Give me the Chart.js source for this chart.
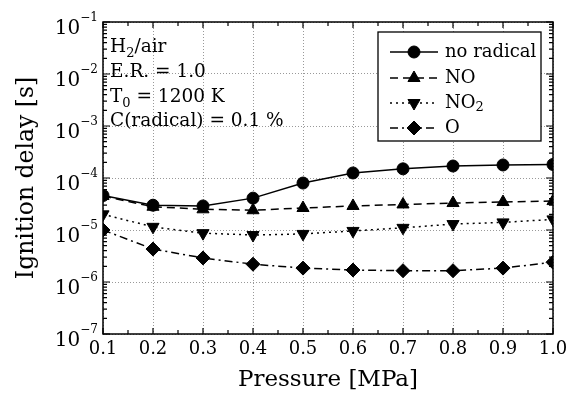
<!DOCTYPE html>
<html><head><meta charset="utf-8">
<script src="https://cdn.jsdelivr.net/npm/chart.js@4"></script>
<style>html,body{margin:0;padding:0;background:#fff}#wrap{width:569px;height:398px}</style>
</head><body><div id="wrap"><canvas id="c" width="569" height="398"></canvas></div>
<script>
const pressure = [0.1, 0.2, 0.3, 0.4, 0.5, 0.6, 0.7, 0.8, 0.9, 1.0];
const noRadical = [4.6e-5, 3.0e-5, 2.9e-5, 4.1e-5, 8.0e-5, 1.25e-4, 1.5e-4, 1.7e-4, 1.78e-4, 1.82e-4];
const noValues = [4.5e-5, 2.8e-5, 2.5e-5, 2.4e-5, 2.65e-5, 2.9e-5, 3.1e-5, 3.3e-5, 3.45e-5, 3.6e-5];
const no2Values = [2.0e-5, 1.15e-5, 8.7e-6, 8.0e-6, 8.4e-6, 9.6e-6, 1.1e-5, 1.3e-5, 1.4e-5, 1.6e-5];
const oValues = [1.0e-5, 4.3e-6, 2.9e-6, 2.2e-6, 1.85e-6, 1.7e-6, 1.65e-6, 1.65e-6, 1.85e-6, 2.4e-6];
const seriesNames = ['no radical', 'NO', 'NO2', 'O'];
const xTickValues = [0.1, 0.2, 0.3, 0.4, 0.5, 0.6, 0.7, 0.8, 0.9, 1.0];
const yExponents = [-7, -6, -5, -4, -3, -2, -1];
const xTitle = 'Pressure [MPa]';
const yTitle = 'Ignition delay [s]';
const noteLines = [['H', '2', '/air'], ['E.R. = 1.0', '', ''], ['T', '0', ' = 1200 K'], ['C(radical) = 0.1 %', '', '']];

const SERIF = '"DejaVu Serif", "Liberation Serif", serif';
const styles = [
  {pointStyle: 'circle', rot: 0, dash: [], r: 6},
  {pointStyle: 'triangle', rot: 0, dash: [8, 5], r: 7},
  {pointStyle: 'triangle', rot: 180, dash: [2, 4], r: 7},
  {pointStyle: 'rectRot', rot: 0, dash: [8, 4, 2, 4], r: 7}
];
const seriesData = [noRadical, noValues, no2Values, oValues];

function drawSubText(ctx, x, y, parts, size) {
  ctx.font = size + 'px ' + SERIF;
  ctx.fillText(parts[0], x, y);
  let w = ctx.measureText(parts[0]).width;
  if (parts[1]) {
    ctx.font = Math.round(size * 0.7) + 'px ' + SERIF;
    ctx.fillText(parts[1], x + w, y + 5);
    w += ctx.measureText(parts[1]).width;
  }
  if (parts[2]) {
    ctx.font = size + 'px ' + SERIF;
    ctx.fillText(parts[2], x + w, y);
  }
}

const framePlugin = {
  id: 'frame',
  afterDraw(chart) {
    const ctx = chart.ctx, a = chart.chartArea;
    const xs = chart.scales.x, ys = chart.scales.y;
    ctx.save();
    ctx.strokeStyle = '#000';
    ctx.lineWidth = 1.5;
    ctx.setLineDash([]);
    ctx.strokeRect(a.left, a.top, a.right - a.left, a.bottom - a.top);
    ctx.lineWidth = 1.2;
    ctx.beginPath();
    for (let v = 0.1; v <= 1.0001; v += 0.05) {
      const px = xs.getPixelForValue(v);
      const major = Math.abs(Math.round(v * 10) - v * 10) < 1e-6;
      const len = major ? 6 : 4;
      ctx.moveTo(px, a.bottom); ctx.lineTo(px, a.bottom - len);
      ctx.moveTo(px, a.top); ctx.lineTo(px, a.top + len);
    }
    for (const e of yExponents) {
      const py = ys.getPixelForValue(Math.pow(10, e));
      ctx.moveTo(a.left, py); ctx.lineTo(a.left + 7, py);
      ctx.moveTo(a.right, py); ctx.lineTo(a.right - 7, py);
      if (e < -1) {
        for (let m = 2; m <= 9; m++) {
          const pm = ys.getPixelForValue(m * Math.pow(10, e));
          ctx.moveTo(a.left, pm); ctx.lineTo(a.left + 4, pm);
          ctx.moveTo(a.right, pm); ctx.lineTo(a.right - 4, pm);
        }
      }
    }
    ctx.stroke();
    ctx.fillStyle = '#000';
    for (const e of yExponents) {
      const py = ys.getPixelForValue(Math.pow(10, e));
      ctx.font = '12px ' + SERIF;
      ctx.textAlign = 'left';
      ctx.textBaseline = 'alphabetic';
      const sup = '\u2212' + Math.abs(e);
      const sw = ctx.measureText(sup).width;
      const right = a.left - 5;
      ctx.fillText(sup, right - sw, py - 1);
      ctx.font = '20px ' + SERIF;
      ctx.textAlign = 'right';
      ctx.fillText('10', right - sw, py + 12);
    }
    ctx.textAlign = 'left';
    ctx.textBaseline = 'alphabetic';
    const noteY = [52, 77, 102, 126];
    noteLines.forEach((p, i) => drawSubText(ctx, a.left + 7, noteY[i], p, 18.5));
    const lx = 378, ly = 32, lw = 163, lh = 109;
    ctx.fillStyle = '#fff';
    ctx.fillRect(lx, ly, lw, lh);
    ctx.strokeStyle = '#000';
    ctx.lineWidth = 1.3;
    ctx.strokeRect(lx, ly, lw, lh);
    const rows = [52, 78, 103, 128];
    chart.data.datasets.forEach((ds, i) => {
      const y = rows[i];
      ctx.strokeStyle = '#000';
      ctx.fillStyle = '#000';
      ctx.setLineDash(styles[i].dash);
      ctx.lineWidth = 1.5;
      ctx.beginPath(); ctx.moveTo(390, y); ctx.lineTo(438, y); ctx.stroke();
      ctx.setLineDash([]);
      ctx.lineWidth = 1;
      Chart.helpers.drawPoint(ctx, {pointStyle: styles[i].pointStyle, radius: styles[i].r, rotation: styles[i].rot, borderWidth: 1}, 414, y);
      ctx.fillStyle = '#000';
      ctx.textBaseline = 'middle';
      if (i === 2) drawSubText(ctx, 445, y, ['NO', '2', ''], 18);
      else { ctx.font = '18px ' + SERIF; ctx.fillText(seriesNames[i], 445, y); }
    });
    ctx.restore();
  }
};

new Chart(document.getElementById('c'), {
  type: 'line',
  data: {
    datasets: seriesNames.map((n, i) => ({
      label: n,
      data: pressure.map((p, j) => ({x: p, y: seriesData[i][j]})),
      borderColor: '#000',
      backgroundColor: '#000',
      borderWidth: 1.5,
      borderDash: styles[i].dash,
      pointStyle: styles[i].pointStyle,
      pointRotation: styles[i].rot,
      pointRadius: styles[i].r,
      pointBorderWidth: 1,
      tension: 0,
      clip: 0
    }))
  },
  options: {
    responsive: false,
    animation: false,
    devicePixelRatio: 1,
    layout: {padding: {top: 22, right: 16, left: 0, bottom: 0}},
    plugins: {legend: {display: false}, tooltip: {enabled: false}},
    scales: {
      x: {
        type: 'linear', min: 0.1, max: 1.0,
        afterBuildTicks(s) { s.ticks = xTickValues.map(v => ({value: v})); },
        afterFit(s) { s.height = 64; s.paddingLeft = 0; s.paddingRight = 0; },
        border: {display: false, dash: [1, 2]},
        grid: {color: '#999', lineWidth: 1, drawTicks: false},
        ticks: {padding: 5, color: '#000', font: {family: SERIF, size: 18}, callback: v => v.toFixed(1), maxRotation: 0, autoSkip: false},
        title: {display: true, text: xTitle, color: '#000', font: {family: SERIF, size: 23}, padding: {top: 5}}
      },
      y: {
        type: 'logarithmic', min: 1e-7, max: 1e-1,
        afterBuildTicks(s) { s.ticks = yExponents.map(e => ({value: Math.pow(10, e)})); },
        afterFit(s) { s.width = 103; s.paddingTop = 0; s.paddingBottom = 0; },
        border: {display: false, dash: [1, 2]},
        grid: {color: '#999', lineWidth: 1, drawTicks: false},
        ticks: {display: false},
        title: {display: true, text: yTitle, color: '#000', font: {family: SERIF, size: 23.5}, padding: {top: 13, bottom: 0}}
      }
    }
  },
  plugins: [framePlugin]
});
</script>
</body></html>
